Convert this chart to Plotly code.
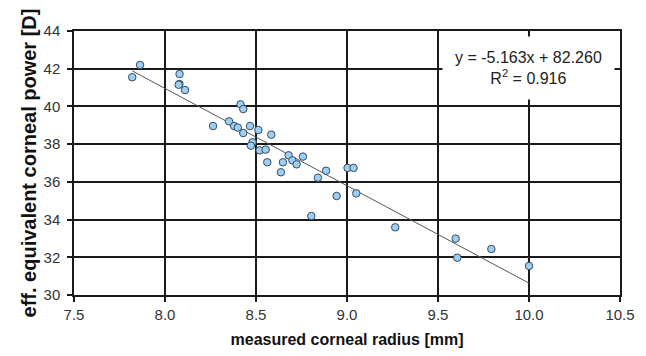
import plotly.graph_objects as go

radius_mm = [7.863, 7.82, 8.08, 8.079, 8.075, 8.11, 8.415, 8.43, 8.264, 8.352,
             8.38, 8.40, 8.43, 8.467, 8.513, 8.584, 8.481, 8.472, 8.52, 8.553,
             8.562, 8.648, 8.637, 8.679, 8.70, 8.723, 8.758, 8.885, 8.84, 9.003,
             9.036, 8.943, 9.051, 8.804, 9.265, 9.597, 9.606, 9.793, 10.0]
power_D = [42.20, 41.55, 41.72, 41.19, 41.15, 40.87, 40.11, 39.86, 38.96, 39.21,
           38.96, 38.88, 38.59, 38.96, 38.75, 38.50, 38.10, 37.92, 37.67, 37.71,
           37.04, 37.04, 36.51, 37.41, 37.14, 36.93, 37.34, 36.59, 36.22, 36.74,
           36.74, 35.25, 35.39, 34.19, 33.59, 32.99, 31.98, 32.44, 31.54]

slope = -5.163
intercept = 82.260
r_squared = 0.916
fit_x = [min(radius_mm), max(radius_mm)]
fit_y = [slope * v + intercept for v in fit_x]

x_ticks = [7.5, 8.0, 8.5, 9.0, 9.5, 10.0, 10.5]
y_ticks = [30, 32, 34, 36, 38, 40, 42, 44]

FONT = "Liberation Sans, Arial, sans-serif"

fig = go.Figure()
fig.add_trace(go.Scatter(x=fit_x, y=fit_y, mode="lines",
                         line=dict(color="#555555", width=1), hoverinfo="skip"))
fig.add_trace(go.Scatter(x=radius_mm, y=power_D, mode="markers",
                         marker=dict(size=7.5, color="#9ccff5",
                                     line=dict(color="#3a4a5a", width=1))))

fig.add_annotation(xref="paper", yref="paper", x=0.833, y=0.86,
                   xanchor="center", yanchor="middle",
                   text=f"y = {slope:.3f}x + {intercept:.3f}<br>R<sup>2</sup> = {r_squared:.3f}",
                   showarrow=False, bgcolor="white", borderpad=12,
                   font=dict(family=FONT, size=16, color="#222"))

axis_common = dict(showgrid=True, gridcolor="#1a1a1a", gridwidth=1.5,
                   showline=True, linecolor="#1a1a1a", linewidth=1.5, mirror=True,
                   ticks="outside", ticklen=5, tickcolor="#1a1a1a", tickwidth=1.5,
                   zeroline=False, automargin=False,
                   tickfont=dict(family=FONT, size=15, color="#333"))

fig.update_xaxes(range=[7.5, 10.5], tickvals=x_ticks,
                 ticktext=[f"{v:.1f}" for v in x_ticks],
                 title=dict(text="<b>measured corneal radius [mm]</b>", standoff=13,
                            font=dict(family=FONT, size=16, color="#111")),
                 **axis_common)
fig.update_yaxes(range=[30, 44], tickvals=y_ticks, ticklabelstandoff=4,
                 title=dict(text="<b>eff. equivalent corneal power [D]</b>", standoff=2,
                            font=dict(family=FONT, size=20, color="#111")),
                 **axis_common)

fig.update_layout(width=630, height=340, showlegend=False,
                  plot_bgcolor="white", paper_bgcolor="white",
                  margin=dict(l=66, r=18, t=23, b=53))

fig.write_html("out.html")
